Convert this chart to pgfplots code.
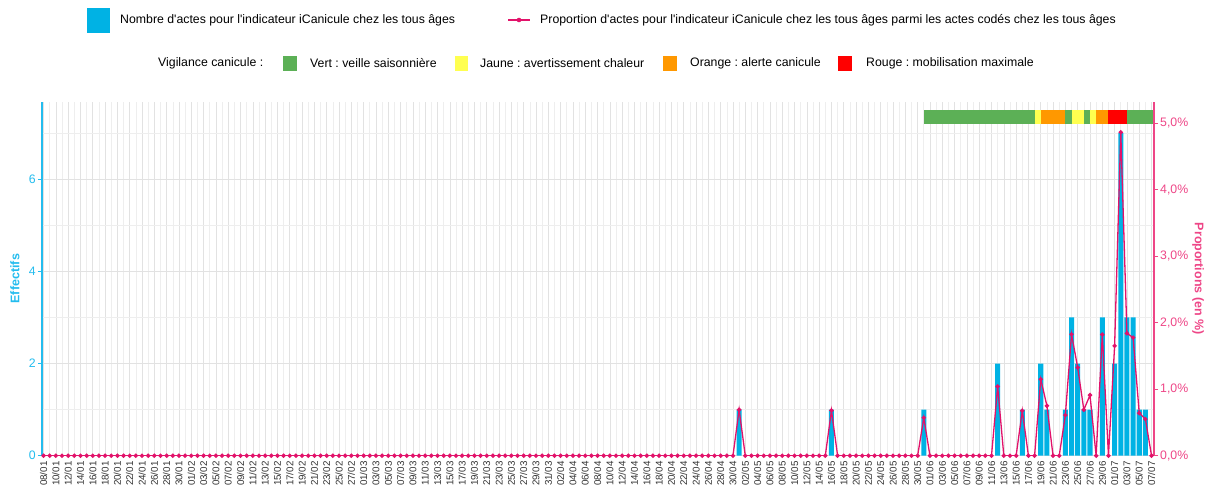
\documentclass[border=0pt]{standalone}
\usepackage{pgfplots}
\usepackage{pgfplotstable}
\pgfplotsset{compat=1.18}
\usepackage{fontspec}
\setmainfont{Liberation Sans}[Ligatures=TeXOff]
\frenchspacing

\definecolor{cbar}{RGB}{0,178,228}
\definecolor{caxl}{RGB}{35,188,238}
\definecolor{cline}{RGB}{226,18,106}
\definecolor{caxr}{RGB}{238,70,135}
\definecolor{vgreen}{RGB}{92,176,86}
\definecolor{vyellow}{RGB}{255,255,80}
\definecolor{vorange}{RGB}{255,152,0}
\definecolor{vred}{RGB}{255,0,0}
\definecolor{gridmaj}{RGB}{226,226,226}
\definecolor{gridmin}{RGB}{238,238,238}

\pgfplotstableread{
day count
113 1
128 1
143 1
155 2
159 1
162 2
163 1
166 1
167 3
168 2
169 1
170 1
172 3
174 2
175 7
176 3
177 3
178 1
179 1
}\counts

\pgfplotstableread[row sep=\\]{
day prop\\
0 0\\ 1 0\\ 2 0\\ 3 0\\ 4 0\\ 5 0\\ 6 0\\ 7 0\\ 8 0\\ 9 0\\
10 0\\ 11 0\\ 12 0\\ 13 0\\ 14 0\\ 15 0\\ 16 0\\ 17 0\\ 18 0\\ 19 0\\
20 0\\ 21 0\\ 22 0\\ 23 0\\ 24 0\\ 25 0\\ 26 0\\ 27 0\\ 28 0\\ 29 0\\
30 0\\ 31 0\\ 32 0\\ 33 0\\ 34 0\\ 35 0\\ 36 0\\ 37 0\\ 38 0\\ 39 0\\
40 0\\ 41 0\\ 42 0\\ 43 0\\ 44 0\\ 45 0\\ 46 0\\ 47 0\\ 48 0\\ 49 0\\
50 0\\ 51 0\\ 52 0\\ 53 0\\ 54 0\\ 55 0\\ 56 0\\ 57 0\\ 58 0\\ 59 0\\
60 0\\ 61 0\\ 62 0\\ 63 0\\ 64 0\\ 65 0\\ 66 0\\ 67 0\\ 68 0\\ 69 0\\
70 0\\ 71 0\\ 72 0\\ 73 0\\ 74 0\\ 75 0\\ 76 0\\ 77 0\\ 78 0\\ 79 0\\
80 0\\ 81 0\\ 82 0\\ 83 0\\ 84 0\\ 85 0\\ 86 0\\ 87 0\\ 88 0\\ 89 0\\
90 0\\ 91 0\\ 92 0\\ 93 0\\ 94 0\\ 95 0\\ 96 0\\ 97 0\\ 98 0\\ 99 0\\
100 0\\ 101 0\\ 102 0\\ 103 0\\ 104 0\\ 105 0\\ 106 0\\ 107 0\\ 108 0\\ 109 0\\
110 0\\ 111 0\\ 112 0\\ 113 0.69\\ 114 0\\ 115 0\\ 116 0\\ 117 0\\ 118 0\\ 119 0\\
120 0\\ 121 0\\ 122 0\\ 123 0\\ 124 0\\ 125 0\\ 126 0\\ 127 0\\ 128 0.68\\ 129 0\\
130 0\\ 131 0\\ 132 0\\ 133 0\\ 134 0\\ 135 0\\ 136 0\\ 137 0\\ 138 0\\ 139 0\\
140 0\\ 141 0\\ 142 0\\ 143 0.57\\ 144 0\\ 145 0\\ 146 0\\ 147 0\\ 148 0\\ 149 0\\
150 0\\ 151 0\\ 152 0\\ 153 0\\ 154 0\\ 155 1.04\\ 156 0\\ 157 0\\ 158 0\\ 159 0.675\\
160 0\\ 161 0\\ 162 1.15\\ 163 0.75\\ 164 0\\ 165 0\\ 166 0.61\\ 167 1.825\\ 168 1.325\\ 169 0.69\\
170 0.91\\ 171 0\\ 172 1.82\\ 173 0\\ 174 1.65\\ 175 4.86\\ 176 1.84\\ 177 1.775\\ 178 0.64\\ 179 0.55\\
180 0\\
}\props

\begin{document}
\begin{tikzpicture}
\useasboundingbox (-42pt,-32.3pt) rectangle (1164pt,455.7pt);

\begin{axis}[
  at={(0pt,0pt)}, anchor=south west,
  scale only axis, width=1112pt, height=354pt,
  xmin=-0.25, xmax=180.4, ymin=0, ymax=7.68,
  axis y line*=left, axis x line*=bottom,
  x axis line style={draw=none},
  y axis line style={caxl, line width=1.4pt},
  tick align=outside,
  major tick length=4pt, minor tick length=0pt,
  xtick={0,2,...,180},
  xticklabels={08/01,10/01,12/01,14/01,16/01,18/01,20/01,22/01,24/01,26/01,28/01,30/01,01/02,03/02,05/02,07/02,09/02,11/02,13/02,15/02,17/02,19/02,21/02,23/02,25/02,27/02,01/03,03/03,05/03,07/03,09/03,11/03,13/03,15/03,17/03,19/03,21/03,23/03,25/03,27/03,29/03,31/03,02/04,04/04,06/04,08/04,10/04,12/04,14/04,16/04,18/04,20/04,22/04,24/04,26/04,28/04,30/04,02/05,04/05,06/05,08/05,10/05,12/05,14/05,16/05,18/05,20/05,22/05,24/05,26/05,28/05,30/05,01/06,03/06,05/06,07/06,09/06,11/06,13/06,15/06,17/06,19/06,21/06,23/06,25/06,27/06,29/06,01/07,03/07,05/07,07/07},
  minor x tick num=1,
  xtick style={draw=none},
  x tick label style={rotate=90, anchor=east, font=\fontsize{9.8}{10}\selectfont, text=black!80, inner sep=1.5pt},
  ytick={0,2,4,6}, yticklabels={0,2,4,6},
  minor ytick={1,3,5,7},
  ytick style={caxl, line width=0.6pt},
  y tick label style={text=caxl, font=\fontsize{12.3}{13}\selectfont, inner sep=2pt},
  xmajorgrids, xminorgrids, ymajorgrids, yminorgrids,
  major grid style={gridmaj, line width=0.6pt},
  minor grid style={gridmin, line width=0.6pt},
  ylabel={Effectifs},
  ylabel style={at={(axis description cs:-0.0243,0.5)}, anchor=center, font=\fontsize{12.5}{13}\selectfont\bfseries, text=caxl},
]
\addplot[ybar, bar width=0.82, fill=cbar, draw=none] table[x=day,y=count] {\counts};
\addplot[fill=vgreen, draw=none, forget plot] coordinates {(143,7.2) (161,7.2) (161,7.5) (143,7.5)};
\addplot[fill=vyellow, draw=none, forget plot] coordinates {(161,7.2) (162,7.2) (162,7.5) (161,7.5)};
\addplot[fill=vorange, draw=none, forget plot] coordinates {(162,7.2) (166,7.2) (166,7.5) (162,7.5)};
\addplot[fill=vgreen, draw=none, forget plot] coordinates {(166,7.2) (167,7.2) (167,7.5) (166,7.5)};
\addplot[fill=vyellow, draw=none, forget plot] coordinates {(167,7.2) (169,7.2) (169,7.5) (167,7.5)};
\addplot[fill=vgreen, draw=none, forget plot] coordinates {(169,7.2) (170,7.2) (170,7.5) (169,7.5)};
\addplot[fill=vyellow, draw=none, forget plot] coordinates {(170,7.2) (171,7.2) (171,7.5) (170,7.5)};
\addplot[fill=vorange, draw=none, forget plot] coordinates {(171,7.2) (173,7.2) (173,7.5) (171,7.5)};
\addplot[fill=vred, draw=none, forget plot] coordinates {(173,7.2) (176,7.2) (176,7.5) (173,7.5)};
\addplot[fill=vgreen, draw=none, forget plot] coordinates {(176,7.2) (180.4,7.2) (180.4,7.5) (176,7.5)};
\end{axis}

\begin{axis}[
  at={(0pt,0pt)}, anchor=south west,
  scale only axis, width=1112pt, height=354pt,
  xmin=-0.25, xmax=180.4, ymin=0, ymax=5.32,
  axis y line*=right, axis x line=none,
  xtick=\empty,
  y axis line style={caxr, line width=1.4pt},
  tick align=outside, major tick length=4pt,
  ytick={0,1,2,3,4,5},
  yticklabels={{0,0\%},{1,0\%},{2,0\%},{3,0\%},{4,0\%},{5,0\%}},
  ytick style={caxr, line width=0.6pt},
  y tick label style={text=caxr, font=\fontsize{12.3}{13}\selectfont, inner sep=2pt},
  ylabel={Proportions (en \%)},
  ylabel style={at={(axis description cs:1.0396,0.5)}, anchor=center, rotate=180, font=\fontsize{12.5}{13}\selectfont\bfseries, text=caxr},
]
\addplot[cline, line width=1.3pt, mark=*, mark size=1.5pt, mark options={solid, fill=cline, draw=cline}] table[x=day,y=prop] {\props};
\end{axis}

% legend row 1
\fill[cbar] (45pt,422.7pt) rectangle (68pt,447.7pt);
\node[anchor=west, font=\fontsize{12.3}{13}\selectfont, inner sep=0pt] at (78pt,435.7pt) {Nombre d'actes pour l'indicateur iCanicule chez les tous âges};
\draw[cline, line width=1.3pt] (466pt,435.7pt) -- (488pt,435.7pt);
\fill[cline] (477pt,435.7pt) circle (2.3pt);
\node[anchor=west, font=\fontsize{12.3}{13}\selectfont, inner sep=0pt] at (498pt,435.7pt) {Proportion d'actes pour l'indicateur iCanicule chez les tous âges parmi les actes codés chez les tous âges};
% legend row 2
\node[anchor=west, font=\fontsize{12.3}{13}\selectfont, inner sep=0pt] at (116pt,392.7pt) {Vigilance canicule :};
\fill[vgreen] (241pt,384.7pt) rectangle (255pt,399.7pt);
\node[anchor=west, font=\fontsize{12.3}{13}\selectfont, inner sep=0pt] at (268pt,392.7pt) {Vert : veille saisonnière};
\fill[vyellow] (413pt,384.7pt) rectangle (426pt,399.7pt);
\node[anchor=west, font=\fontsize{12.3}{13}\selectfont, inner sep=0pt] at (438pt,392.7pt) {Jaune : avertissement chaleur};
\fill[vorange] (621pt,384.7pt) rectangle (635pt,399.7pt);
\node[anchor=west, font=\fontsize{12.3}{13}\selectfont, inner sep=0pt] at (648pt,392.7pt) {Orange : alerte canicule};
\fill[vred] (796pt,384.7pt) rectangle (810pt,399.7pt);
\node[anchor=west, font=\fontsize{12.3}{13}\selectfont, inner sep=0pt] at (824pt,392.7pt) {Rouge : mobilisation maximale};
\end{tikzpicture}
\end{document}
